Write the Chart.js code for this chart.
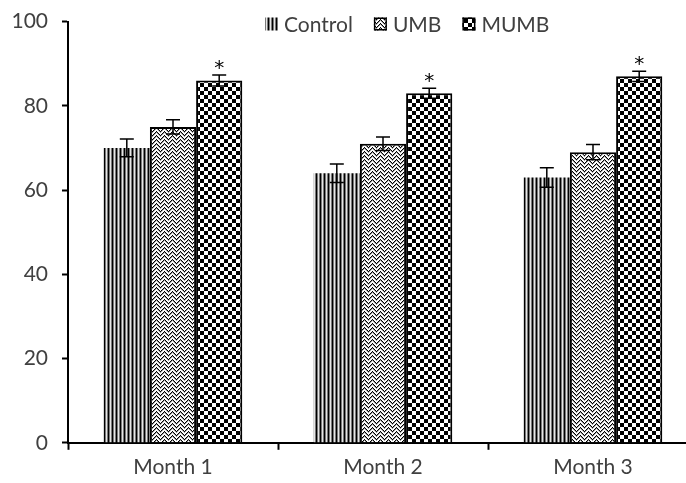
<!DOCTYPE html>
<html>
<head>
<meta charset="utf-8">
<script src="https://cdn.jsdelivr.net/npm/chart.js@4.4.1/dist/chart.umd.min.js"></script>
<style>
  html, body { margin: 0; padding: 0; background: #fff; overflow: hidden; }
  #wrap { width: 710px; height: 490px; margin-top: -5px; }
</style>
</head>
<body>
<div id="wrap"><canvas id="bars" width="710" height="490"></canvas></div>
<script>
// values
const months = ['Month 1', 'Month 2', 'Month 3'];
const control = [70, 64, 63];
const control_err = [2.1, 2.2, 2.3];
const umb = [75, 71, 69];
const umb_err = [1.7, 1.6, 1.8];
const mumb = [86, 83, 87];
const mumb_err = [1.3, 1.2, 1.2];
const mumb_mark = ['*', '*', '*'];
const y_ticks = [0, 20, 40, 60, 80, 100];

const FONT = 'Lato, "Open Sans", sans-serif';
const TEXT = '#404040';

// fill patterns, built pixel by pixel
function make_pattern(w, h, pix) {
    const c = document.createElement('canvas');
    c.width = w;
    c.height = h;
    const g = c.getContext('2d');
    for (let y = 0; y < h; y++) {
        for (let x = 0; x < w; x++) {
            g.fillStyle = pix(x, y);
            g.fillRect(x, y, 1, 1);
        }
    }
    return g.createPattern(c, 'repeat');
}

const stripes = ['#000', '#7a7a7a', '#e6e6e6', '#7a7a7a'];
const control_fill = make_pattern(4, 4, (x, y) => stripes[x]);

const umb_fill = make_pattern(8, 8, (x, y) => {
    if (x < 4) return ((x + y) % 4 == 0) ? '#000' : (((x + y) % 4 == 1) ? '#9a9a9a' : '#fff');
    return ((x - y + 8) % 4 == 0) ? '#000' : (((x - y + 8) % 4 == 3) ? '#9a9a9a' : '#fff');
});

const mumb_fill = make_pattern(8, 8, (x, y) => ((Math.floor(x / 4) + Math.floor(y / 4)) % 2 == 0) ? '#000' : '#fff');

const errors = [control_err, umb_err, mumb_err];
const marks = [null, null, mumb_mark];

const errorBars = {
    id: 'errorBars',
    afterDatasetsDraw(chart) {
        const ctx = chart.ctx;
        const ys = chart.scales.y;
        ctx.save();
        ctx.strokeStyle = '#000';
        ctx.lineWidth = 1.5;
        chart.data.datasets.forEach((ds, di) => {
            const meta = chart.getDatasetMeta(di);
            meta.data.forEach((bar, i) => {
                const v = ds.data[i];
                const e = errors[di][i];
                const top = ys.getPixelForValue(v + e);
                const bot = ys.getPixelForValue(v - e);
                const x = bar.x;
                ctx.beginPath();
                ctx.moveTo(x, top); ctx.lineTo(x, bot);
                ctx.moveTo(x - 7, top); ctx.lineTo(x + 7, top);
                ctx.moveTo(x - 7, bot); ctx.lineTo(x + 7, bot);
                ctx.stroke();
                if (marks[di] && marks[di][i]) {
                    ctx.fillStyle = '#000';
                    ctx.font = '20px "DejaVu Sans", sans-serif';
                    ctx.textAlign = 'center';
                    ctx.textBaseline = 'alphabetic';
                    ctx.fillText(marks[di][i], x, top - 1);
                }
            });
        });
        ctx.restore();
    }
};

// legend drawn by hand so it can sit on the top of the plot
const topLegend = {
    id: 'topLegend',
    afterDraw(chart) {
        const ctx = chart.ctx;
        ctx.save();
        ctx.font = '21px ' + FONT;
        ctx.textBaseline = 'middle';
        ctx.textAlign = 'left';
        let x = 265;
        const y = 29;
        chart.data.datasets.forEach(ds => {
            ctx.fillStyle = ds.backgroundColor;
            ctx.fillRect(x, y - 6.5, 13, 13);
            if (ds.borderWidth) {
                ctx.strokeStyle = '#000';
                ctx.lineWidth = 1.5;
                ctx.strokeRect(x + 0.75, y - 5.75, 11.5, 11.5);
            }
            ctx.fillStyle = TEXT;
            ctx.fillText(ds.label, x + 19, y + 1);
            x += 19 + ctx.measureText(ds.label).width + 21;
        });
        ctx.restore();
    }
};

const ctx = document.getElementById('bars');
const barChart = new Chart(ctx, {
    type: 'bar',
    data: {
        labels: months,
        datasets: [{
            label: 'Control',
            data: control,
            backgroundColor: control_fill,
            borderWidth: 0
        },
        {
            label: 'UMB',
            data: umb,
            backgroundColor: umb_fill,
            borderColor: '#000',
            borderWidth: 2
        },
        {
            label: 'MUMB',
            data: mumb,
            backgroundColor: mumb_fill,
            borderColor: '#000',
            borderWidth: 2
        }]
    },
    options: {
        responsive: false,
        animation: false,
        events: [],
        layout: { padding: { top: 6, right: 12, left: 10, bottom: 0 } },
        datasets: { bar: { categoryPercentage: 0.66, barPercentage: 1.0 } },
        plugins: {
            legend: { display: false },
            tooltip: { enabled: false }
        },
        scales: {
            x: {
                grid: { display: true, drawOnChartArea: false, tickLength: 7, tickColor: '#000', tickWidth: 2 },
                border: { display: true, color: '#000', width: 2 },
                ticks: { color: TEXT, font: { family: FONT, size: 21 }, padding: 5 }
            },
            y: {
                min: 0,
                max: 100,
                afterBuildTicks(scale) { scale.ticks = y_ticks.map(v => ({ value: v })); },
                afterFit(scale) { scale.width = 58; },
                grid: { display: true, drawOnChartArea: false, tickLength: 6, tickColor: '#000', tickWidth: 2 },
                border: { display: true, color: '#000', width: 2 },
                ticks: { color: TEXT, font: { family: FONT, size: 21 }, padding: 14 }
            }
        }
    },
    plugins: [errorBars, topLegend]
});
</script>
</body>
</html>
